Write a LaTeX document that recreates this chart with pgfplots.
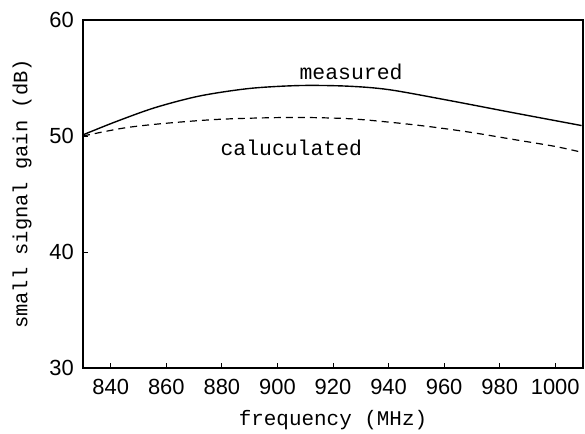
\documentclass[border=0pt]{standalone}
\usepackage{fontspec}
\setmainfont{Liberation Sans}
\newfontfamily\monofont{Liberation Mono}
\usepackage{pgfplots}
\pgfplotsset{compat=1.18}

\begin{document}
\begin{tikzpicture}
\begin{axis}[
  scale only axis,
  width=500bp, height=348bp,
  xmin=830, xmax=1010,
  ymin=30, ymax=60,
  xtick={840,860,...,1000},
  ytick={30,40,50,60},
  tick align=inside,
  xtick pos=bottom, ytick pos=left,
  major tick length=5bp,
  axis line style={line width=1.3pt},
  tick style={line width=1pt, black},
  ticklabel style={font=\fontsize{22}{22}\selectfont},
  xticklabel style={inner sep=0pt, yshift=-11bp},
  yticklabel style={inner sep=0pt, xshift=-9bp},
  /pgf/number format/assume math mode=true,
  /pgf/number format/1000 sep={},
  xlabel={frequency (MHz)},
  ylabel={small signal gain (dB)},
  xlabel style={font=\monofont\fontsize{21}{24}\selectfont,
    at={(axis description cs:0.5,-0.15)}, anchor=center},
  ylabel style={font=\monofont\fontsize{20.5}{24}\selectfont,
    at={(axis description cs:-0.122,0.5)}, anchor=center},
]
% measured
\addplot[black, line width=1.4pt, smooth] coordinates {
  (830,50.1) (842,51.25) (856,52.45) (872,53.45) (890,54.1)
  (908,54.35) (925,54.3) (940,54.0) (961,53.1) (985,52.0) (1009.5,50.9)
};
% calculated
\addplot[black, line width=1.2pt, smooth, dash pattern=on 7bp off 5bp] coordinates {
  (830,50.0) (845,50.7) (860,51.1) (880,51.45) (905,51.6)
  (925,51.5) (940,51.2) (955,50.8) (970,50.3) (985,49.7) (1000,49.1) (1009.5,48.6)
};
\node[font=\monofont\fontsize{21.5}{24}\selectfont] at (axis cs:926.5,55.5) {measured};
\node[font=\monofont\fontsize{21.5}{24}\selectfont] at (axis cs:905,49.0) {caluculated};
\end{axis}
\path (current axis.south west) ++(-83bp,-66bp) rectangle ([shift={(2bp,20bp)}]current axis.north east);
\end{tikzpicture}
\end{document}
